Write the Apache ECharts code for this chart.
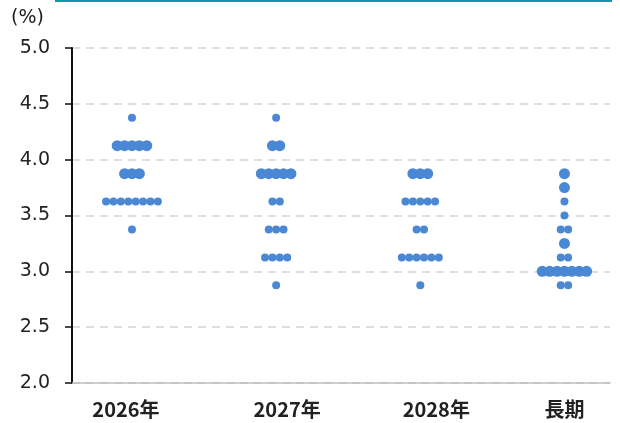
<!DOCTYPE html>
<html>
<head>
<meta charset="utf-8">
<script src="https://cdn.jsdelivr.net/npm/echarts@6/dist/echarts.min.js"></script>
<style>
  html, body { margin: 0; padding: 0; background: #fff; }
  #main { width: 620px; height: 423px; }
</style>
</head>
<body>
<div id="main"></div>
<script>
// カテゴリと金利水準
var categories = ['2026年', '2027年', '2028年', '長期'];
var levels = [4.375, 4.125, 3.875, 3.75, 3.625, 3.5, 3.375, 3.25, 3.125, 3.0, 2.875];
// 各水準の参加者数（levels と同じ並び）
var count2026 = [1, 5, 3, 0, 8, 0, 1, 0, 0, 0, 0];
var count2027 = [1, 2, 5, 0, 2, 0, 3, 0, 4, 0, 1];
var count2028 = [0, 0, 3, 0, 5, 0, 2, 0, 6, 0, 1];
var countLong = [0, 0, 1, 1, 1, 1, 2, 1, 2, 7, 2];
var yTicks = [2.0, 2.5, 3.0, 3.5, 4.0, 4.5, 5.0];

var counts = [count2026, count2027, count2028, countLong];
// 大きめに描かれている水準
var bigLevels = [4.125, 3.875, 3.75, 3.25, 3.0];
// ラベルの横ずれ（px）
var labelShift = [-6, 11, 16, 0];

var dots = [];
for (var c = 0; c < counts.length; c++) {
  for (var i = 0; i < levels.length; i++) {
    var n = counts[c][i];
    var big = bigLevels.indexOf(levels[i]) >= 0;
    for (var k = 0; k < n; k++) {
      dots.push({
        value: [c, levels[i]],
        symbolSize: big ? 11 : 8,
        symbolOffset: [(k - (n - 1) / 2) * 7.4, 0]
      });
    }
  }
}

var rich = {};
labelShift.forEach(function (s, i) {
  rich['c' + i] = {
    fontSize: 20,
    fontWeight: 'bold',
    color: '#222',
    fontFamily: '"Noto Sans CJK JP", sans-serif',
    padding: s >= 0 ? [0, 0, 0, 2 * s] : [0, -2 * s, 0, 0]
  };
});

var chart = echarts.init(document.getElementById('main'));
chart.setOption({
  animation: false,
  grid: { left: 72, right: 10, top: 48, bottom: 40 },
  graphic: [
    { type: 'rect', shape: { x: 55, y: 0, width: 557, height: 2 }, style: { fill: '#1497ad' } },
    { type: 'text', left: 11, top: 9, style: { text: '(%)', font: '19px "DejaVu Sans"', fill: '#222' } }
  ],
  xAxis: {
    type: 'value',
    min: -0.416,
    max: 3.316,
    splitLine: { show: false },
    axisTick: { show: false },
    axisLine: { show: true, onZero: false, lineStyle: { color: '#bfbfbf', width: 1.5 } },
    axisLabel: {
      customValues: [0, 1, 2, 3],
      formatter: function (v) {
        var i = Math.round(v);
        return '{c' + i + '|' + categories[i] + '}';
      },
      rich: rich,
      margin: 16
    }
  },
  yAxis: {
    type: 'value',
    min: yTicks[0],
    max: yTicks[yTicks.length - 1],
    interval: 0.5,
    axisLine: { show: true, onZero: false, lineStyle: { color: '#111', width: 2 } },
    axisTick: { show: true, length: 7, lineStyle: { color: '#111', width: 1.5 } },
    axisLabel: {
      formatter: function (v) { return v.toFixed(1); },
      fontSize: 19,
      color: '#222',
      margin: 22,
      fontFamily: '"DejaVu Sans", sans-serif'
    },
    splitLine: { show: true, lineStyle: { color: '#d4d4d4', type: [8, 6], width: 1.5 } }
  },
  series: [{
    type: 'scatter',
    data: dots,
    itemStyle: { color: '#4a88d6', opacity: 1 },
    z: 3
  }]
});
</script>
</body>
</html>
